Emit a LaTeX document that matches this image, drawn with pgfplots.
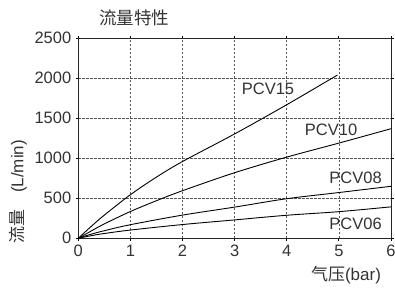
\documentclass[border=0pt]{standalone}
\usepackage{pgfplots}
\pgfplotsset{compat=1.18}
\usepackage{fontspec}
\setmainfont{Liberation Sans}
\newfontfamily\cjk{Noto Sans CJK SC}
\definecolor{txt}{HTML}{333333}
\definecolor{gridc}{HTML}{555555}
\begin{document}
\begin{tikzpicture}
\begin{axis}[
  scale only axis,
  width=312.7pt, height=200pt,
  xmin=0, xmax=6, ymin=0, ymax=2500,
  xtick={0,1,2,3,4,5,6},
  ytick={0,500,1000,1500,2000,2500},
  /pgf/number format/assume math mode=true,
  /pgf/number format/1000 sep={},
  ticklabel style={font=\fontsize{16.5}{18}\selectfont, text=txt},
  yticklabel style={xshift=-1pt},
  xticklabel style={yshift=-1pt},
  tick align=outside,
  major tick length=2.5pt,
  tick style={black, line width=0.8pt},
  grid=major,
  major grid style={gridc, line width=0.7pt, dash pattern=on 2.5pt off 1.5pt},
  axis line style={black!85, line width=1pt},
  clip=false,
]
\addplot[black, line width=0.9pt, smooth, tension=0.55] coordinates {
  (0,0) (0.25,150) (0.5,290) (1,545) (1.5,765) (2,960) (3,1305) (4,1670) (4.97,2040)};
\addplot[black, line width=0.9pt, smooth, tension=0.55] coordinates {
  (0,0) (0.25,92) (0.5,180) (1,335) (1.5,470) (2,595) (3,820) (4,1015) (5,1190) (6,1370)};
\addplot[black, line width=0.9pt, smooth, tension=0.55] coordinates {
  (0,0) (0.25,52) (0.5,95) (1,170) (2,290) (3,390) (4,495) (5,572) (6,650)};
\addplot[black, line width=0.9pt, smooth, tension=0.55] coordinates {
  (0,0) (0.25,33) (0.5,60) (1,103) (2,172) (3,230) (4,288) (5,333) (6,393)};
\node[text=txt, font=\fontsize{16.5}{18}\selectfont] at (axis cs:3.64,1869) {PCV15};
\node[text=txt, font=\fontsize{16.5}{18}\selectfont] at (axis cs:4.85,1356) {PCV10};
\node[text=txt, font=\fontsize{16.5}{18}\selectfont] at (axis cs:5.32,758) {PCV08};
\node[text=txt, font=\fontsize{16.5}{18}\selectfont] at (axis cs:5.32,186) {PCV06};
\coordinate (O) at (rel axis cs:0,0);
\end{axis}
\node[text=txt, font=\cjk\fontsize{17.5}{19}\selectfont] at ([shift={(55.7pt,220.3pt)}]O) {流量特性};
\node[text=txt, rotate=90, font=\fontsize{17}{19}\selectfont] at ([shift={(-60.3pt,46.3pt)}]O) {{\cjk 流量}\quad(L/min)};
\node[text=txt, font=\fontsize{17}{19}\selectfont] at ([shift={(267.7pt,-36.7pt)}]O) {{\cjk 气压}(bar)};
\pgfresetboundingbox
\useasboundingbox ([shift={(-78.3pt,-49.7pt)}]O) rectangle ++(395pt,288pt);
\end{tikzpicture}
\end{document}
